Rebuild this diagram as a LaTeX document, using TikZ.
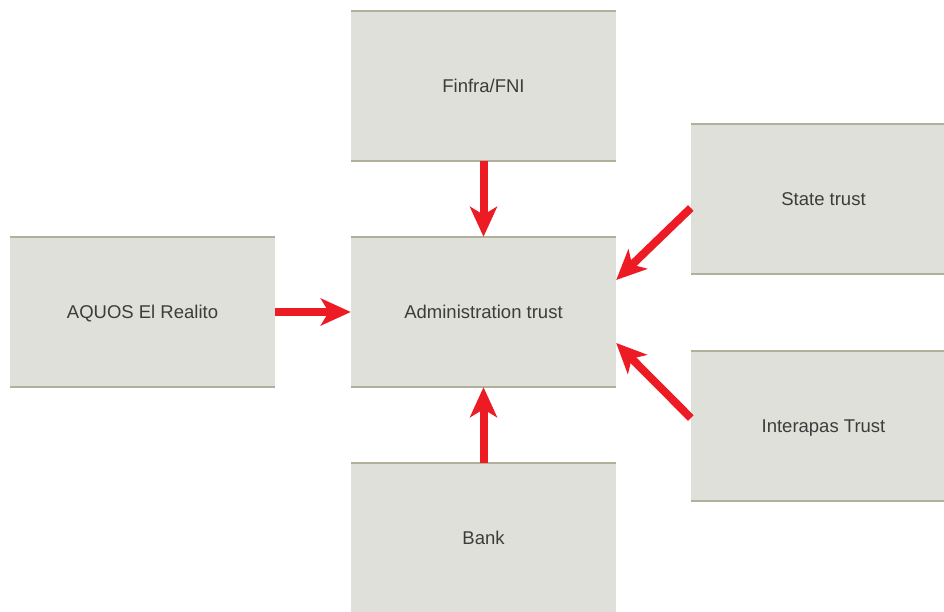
\documentclass[tikz,border=0pt]{standalone}
\usepackage{fontspec}
\setmainfont{Liberation Sans}
\usetikzlibrary{arrows.meta}
\definecolor{boxfill}{RGB}{224,224,218}
\definecolor{boxrule}{RGB}{178,175,155}
\definecolor{flow}{RGB}{237,28,36}
\definecolor{label}{RGB}{60,60,60}
\tikzstyle{box}=[minimum width=265pt,minimum height=150pt,fill=boxfill,inner sep=0pt,text height=13.5pt,text depth=0pt,text=label,font=\fontsize{18.5}{22}\selectfont]
\tikzstyle{flow}=[-{Stealth[length=30pt,width=27pt,inset=8pt]},line width=8pt,color=flow]

\begin{document}
\begin{tikzpicture}[x=1pt,y=-1pt]
  \useasboundingbox (0,0) rectangle (944,612);
  \draw (483.5,86) node[box] (Finfra) {Finfra/FNI};
  \draw (483.5,312) node[box] (Admin) {Administration trust};
  \draw (142.5,312) node[box] (Aquos) {AQUOS El Realito};
  \draw (483.5,538) node[box] (Bank) {Bank};
  \draw (823.5,199) node[box] (State) {State trust};
  \draw (823.5,426) node[box] (Interapas) {Interapas Trust};

  %% top and bottom rules
  \foreach \n in {Finfra,Admin,Aquos,Bank,State,Interapas}{
    \draw[boxrule,line width=1.5pt] (\n.north west) -- (\n.north east);
    \draw[boxrule,line width=1.5pt] (\n.south west) -- (\n.south east);
  }

  \draw[flow] (Finfra.south) -- (Admin.north);
  \draw[flow] (Bank.north) -- (Admin.south);
  \draw[flow] (Aquos.east) -- (Admin.west);
  \draw[flow] ([yshift=-9pt]State.west) -- ([yshift=32pt]Admin.east);
  \draw[flow] ([yshift=8pt]Interapas.west) -- ([yshift=-31pt]Admin.east);
\end{tikzpicture}
\end{document}
